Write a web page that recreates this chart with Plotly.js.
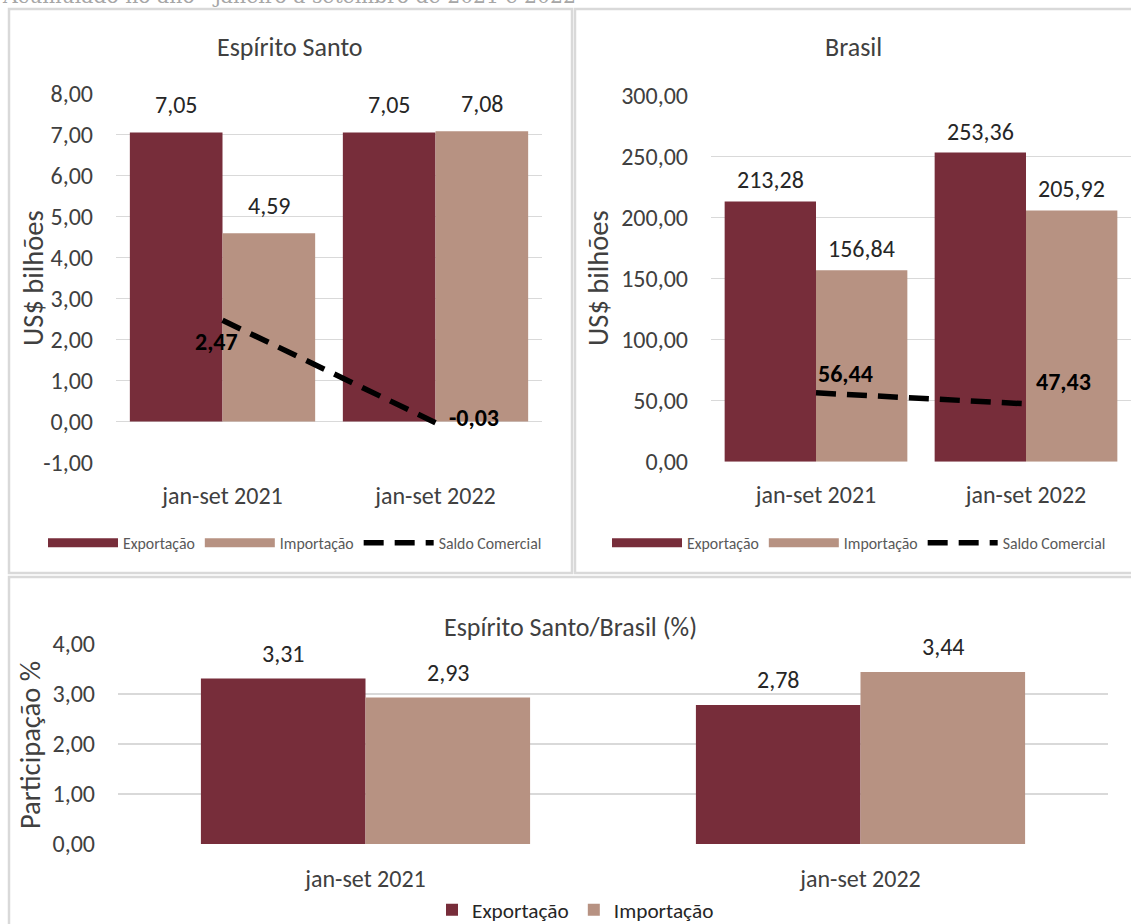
<!DOCTYPE html>
<html><head><meta charset="utf-8">
<script src="https://cdn.plot.ly/plotly-3.0.1.min.js"></script>
<style>html,body{margin:0;padding:0;background:#fff;overflow:hidden;}#chart{width:1131px;height:924px;}</style>
</head><body><div id="chart"></div>
<script>
// ---- data ----
const categories = ['jan-set 2021', 'jan-set 2022'];
const esExport = [7.05, 7.05];
const esImport = [4.59, 7.08];
const esSaldo = [2.47, -0.03];
const brExport = [213.28, 253.36];
const brImport = [156.84, 205.92];
const brSaldo = [56.44, 47.43];
const shareExport = [3.31, 2.78];
const shareImport = [2.93, 3.44];
const esTicks = [-1, 0, 1, 2, 3, 4, 5, 6, 7, 8];
const seriesNames = ['Exportação', 'Importação', 'Saldo Comercial'];
const panelTitles = ['Espírito Santo', 'Brasil', 'Espírito Santo/Brasil (%)'];
const yTitles = ['US$ bilhões', 'US$ bilhões', 'Participação %'];
const headerText = 'Acumulado no ano - janeiro a setembro de 2021 e 2022';

// ---- style ----
const W = 1131, H = 924;
const px = x => x / W, py = y => 1 - y / H;
const cExp = '#772D3A', cImp = '#B79282';
const FONT = 'Carlito, Lato, sans-serif';
const tickFont = {family: FONT, size: 24, color: '#404040'};
const labelFont = {family: FONT, size: 24, color: '#262626'};
const saldoFont = {family: FONT, size: 24, color: '#000000', weight: 'bold'};
const wTop = 0.435, wBot = 0.3325;
const fmt = v => v.toFixed(2).replace('.', ',');

const traces = [];
function barPair(xa, ya, ex, im, w, leg, show) {
  traces.push({type: 'bar', x: categories, y: ex, name: seriesNames[0], xaxis: xa, yaxis: ya,
    width: w, offset: -w, marker: {color: cExp}, showlegend: show, legend: leg, hoverinfo: 'y'});
  traces.push({type: 'bar', x: categories, y: im, name: seriesNames[1], xaxis: xa, yaxis: ya,
    width: w, offset: 0, marker: {color: cImp}, showlegend: show, legend: leg, hoverinfo: 'y'});
}
function legendSwatches(xa, ya, leg) {
  traces.push({type: 'scatter', mode: 'lines', x: [null], y: [null], xaxis: xa, yaxis: ya, name: seriesNames[0],
    line: {color: cExp, width: 9}, legend: leg, hoverinfo: 'skip'});
  traces.push({type: 'scatter', mode: 'lines', x: [null], y: [null], xaxis: xa, yaxis: ya, name: seriesNames[1],
    line: {color: cImp, width: 9}, legend: leg, hoverinfo: 'skip'});
}
function saldoLine(xa, ya, vals, leg) {
  traces.push({type: 'scatter', mode: 'lines', x: categories, y: vals, name: seriesNames[2], xaxis: xa, yaxis: ya,
    line: {color: '#000', width: 5.5, dash: '20px,11px'}, legend: leg, cliponaxis: false, hoverinfo: 'y'});
}

legendSwatches('x', 'y', 'legend');
barPair('x', 'y', esExport, esImport, wTop, 'legend', false);
saldoLine('x', 'y', esSaldo, 'legend');
legendSwatches('x2', 'y2', 'legend2');
barPair('x2', 'y2', brExport, brImport, wTop, 'legend2', false);
saldoLine('x2', 'y2', brSaldo, 'legend2');
barPair('x3', 'y3', shareExport, shareImport, wBot, 'legend3', true);

const annotations = [];
function barLabels(xa, ya, ex, im, w, yshift) {
  categories.forEach((c, i) => {
    [[ex[i], -w / 2], [im[i], w / 2]].forEach(([v, off]) => {
      annotations.push({xref: xa, yref: ya, x: i + off, y: v, text: fmt(v), showarrow: false,
        xanchor: 'center', yanchor: 'bottom', yshift: yshift, font: labelFont});
    });
  });
}
barLabels('x', 'y', esExport, esImport, wTop, 11);
barLabels('x2', 'y2', brExport, brImport, wTop, 5);
barLabels('x3', 'y3', shareExport, shareImport, wBot, 9);

// saldo labels (placement offsets only)
const saldoPlace = {
  x: [{xanchor: 'center', xshift: -6, yshift: -21}, {xanchor: 'left', xshift: 11, yshift: 5}],
  x2: [{xanchor: 'left', xshift: 0, yshift: 19}, {xanchor: 'left', xshift: 8, yshift: 22}]
};
[['x', 'y', esSaldo], ['x2', 'y2', brSaldo]].forEach(([xa, ya, vals]) => {
  vals.forEach((v, i) => {
    const p = saldoPlace[xa][i];
    annotations.push({xref: xa, yref: ya, x: i, y: v, text: fmt(v), showarrow: false,
      xanchor: p.xanchor, yanchor: 'middle', xshift: p.xshift, yshift: p.yshift, font: saldoFont});
  });
});

// panel titles
[[290, 47], [853, 47], [570, 627]].forEach(([x, y], i) => {
  annotations.push({xref: 'paper', yref: 'paper', x: px(x), y: py(y), text: panelTitles[i], showarrow: false,
    xanchor: 'center', yanchor: 'middle', font: {family: FONT, size: 26, color: '#404040'}});
});
// y titles
[[33, 278], [598, 278], [30, 745]].forEach(([x, y], i) => {
  annotations.push({xref: 'paper', yref: 'paper', x: px(x), y: py(y), text: yTitles[i], showarrow: false,
    textangle: -90, xanchor: 'center', yanchor: 'middle', font: {family: FONT, size: 28.5, color: '#404040'}});
});
// header (cut off at the top edge, as in the source image)
annotations.push({xref: 'paper', yref: 'paper', x: 0, y: py(10), text: headerText, showarrow: false,
  xanchor: 'left', yanchor: 'bottom', font: {family: 'DejaVu Serif', size: 20.4, color: '#a6a6a6'}});

const border = '#d9d9d9';
const shapes = [
  [9, 9, 572, 573], [575, 9, 1140, 573], [9, 577, 1140, 935]
].map(([x0, y0, x1, y1]) => ({type: 'rect', xref: 'paper', yref: 'paper', x0: px(x0), x1: px(x1),
  y0: py(y1), y1: py(y0), line: {color: border, width: 2.5}, fillcolor: 'rgba(0,0,0,0)', layer: 'below'}));

function xAx(d, anchor, stand) {
  return {domain: d, anchor: anchor, type: 'category', showgrid: false, zeroline: false, showline: false, ticks: '',
    tickfont: tickFont, ticklabelstandoff: stand, fixedrange: true, range: [-0.5, 1.5], automargin: false};
}
function yAx(d, anchor, r, dt) {
  return {domain: d, anchor: anchor, range: r, dtick: dt, tickformat: ',.2f', showgrid: true, gridcolor: '#d9d9d9',
    gridwidth: 1.5, zeroline: false, showline: false, ticks: '', tickfont: tickFont, ticklabelstandoff: 22,
    fixedrange: true, automargin: false};
}
const legBase = {orientation: 'h', xanchor: 'left', yanchor: 'middle', bgcolor: 'rgba(0,0,0,0)',
  font: {family: FONT, size: 15.8, color: '#595959'}, itemwidth: 70, tracegroupgap: 0, traceorder: 'normal'};

const yaxis1 = Object.assign(yAx([py(462.5), py(93.5)], 'x', [-1, 8], 1),
  {tickmode: 'array', tickvals: esTicks, ticktext: esTicks.map(fmt)});

const layout = {
  width: W, height: H, margin: {l: 0, r: 0, t: 0, b: 0, autoexpand: false},
  paper_bgcolor: '#fff', plot_bgcolor: 'rgba(0,0,0,0)',
  separators: ',.', barmode: 'overlay', showlegend: true, font: {family: FONT},
  xaxis: xAx([px(116), px(542)], 'y', 16), yaxis: yaxis1,
  xaxis2: xAx([px(711), px(1133)], 'y2', 16), yaxis2: yAx([py(461.7), py(95.7)], 'x2', [0, 300], 50),
  xaxis3: xAx([px(118), px(1108)], 'y3', 18), yaxis3: yAx([py(844), py(644)], 'x3', [0, 4], 1),
  legend: Object.assign({}, legBase, {x: px(43), y: py(543)}),
  legend2: Object.assign({}, legBase, {x: px(607), y: py(543)}),
  legend3: Object.assign({}, legBase, {x: px(432), y: py(910), itemwidth: 30,
    font: {family: FONT, size: 21.3, color: '#262626'}}),
  annotations: annotations, shapes: shapes
};
Plotly.newPlot('chart', traces, layout, {displayModeBar: false, staticPlot: true});
</script></body></html>
